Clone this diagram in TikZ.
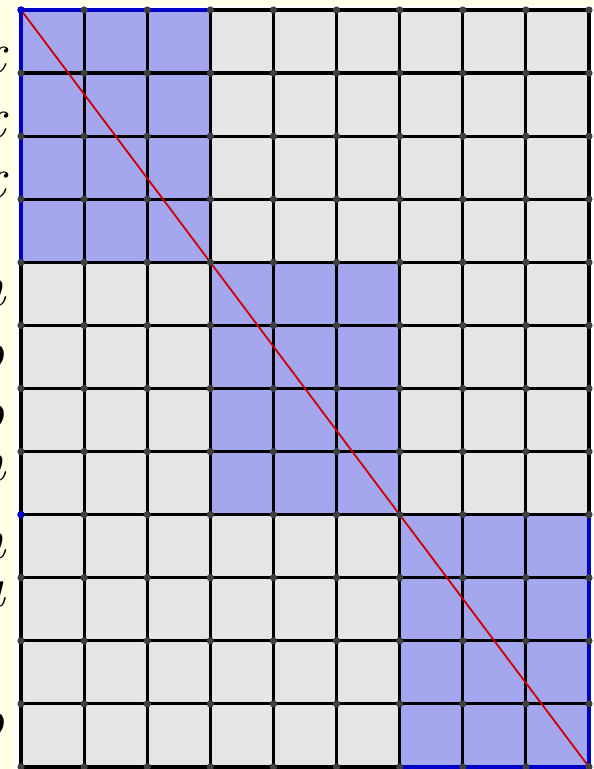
\documentclass[tikz,border=0pt]{standalone}
\definecolor{bgyellow}{HTML}{FFFFE6}
\definecolor{cellgray}{HTML}{E5E5E5}
\definecolor{cellblue}{HTML}{A5A7EE}
\definecolor{edgeblue}{HTML}{0000C8}
\definecolor{diagred}{HTML}{D00000}
\definecolor{dotgray}{HTML}{404040}
\tikzset{
  gridline/.style={black, line width=3.2pt, line cap=round},
  blueedge/.style={edgeblue, line width=3.4pt, line cap=round},
  diagline/.style={diagred, line width=1.8pt},
  gdot/.style={fill=dotgray},
  bdot/.style={fill=edgeblue},
  sidelabel/.style={anchor=base east, inner sep=0pt, font=\fontsize{58}{58}\selectfont\itshape}
}
\begin{document}
\begin{tikzpicture}[x=1pt,y=-1pt, line join=round]
\useasboundingbox (0,0) rectangle (594,769);
\fill[bgyellow] (0,0) rectangle (594,769);
\fill[white] (14,5) rectangle (594,769);
% clipped side letters
\begin{scope}
  \clip (0,0) rectangle (14,769);
  \node[sidelabel] (l1) at (6,72) {x};
  \node[sidelabel] (l2) at (6,137) {x};
  \node[sidelabel] (l3) at (6,197) {x};
  \node[sidelabel] (l4) at (6,305) {n};
  \node[sidelabel] (l5) at (5,370) {o};
  \node[sidelabel] (l6) at (5,430) {o};
  \node[sidelabel] (l7) at (6,480) {n};
  \node[sidelabel] (l8) at (6,558) {n};
  \node[sidelabel] (l9) at (5,606) {u};
  \node[sidelabel] (l10) at (5,738) {o};
\end{scope}
\begin{scope}[shift={(21,10)}, x=63.11pt, y=-63.08pt]
  \fill[cellgray] (0,0) rectangle (9,12);
  \fill[cellblue] (0,0) rectangle (3,4) (3,4) rectangle (6,8) (6,8) rectangle (9,12);
  \foreach \i in {0,...,9} \draw[gridline] (\i,0) -- (\i,12);
  \foreach \j in {0,...,12} \draw[gridline] (0,\j) -- (9,\j);
  \draw[blueedge] (0,4) -- (0,0) -- (3,0);
  \draw[blueedge] (6,12) -- (9,12) -- (9,8);
  \coordinate (start) at (0,0);
  \coordinate (end) at (9,12);
  \draw[diagline] (start) -- (end);
  \foreach \i in {0,...,9} \foreach \j in {0,...,12} \fill[gdot] (\i,\j) circle[radius=3.6pt];
  \fill[bdot] (0,0) circle[radius=3.6pt];
  \fill[bdot] (0,8) circle[radius=3.6pt];
\end{scope}
\end{tikzpicture}
\end{document}
